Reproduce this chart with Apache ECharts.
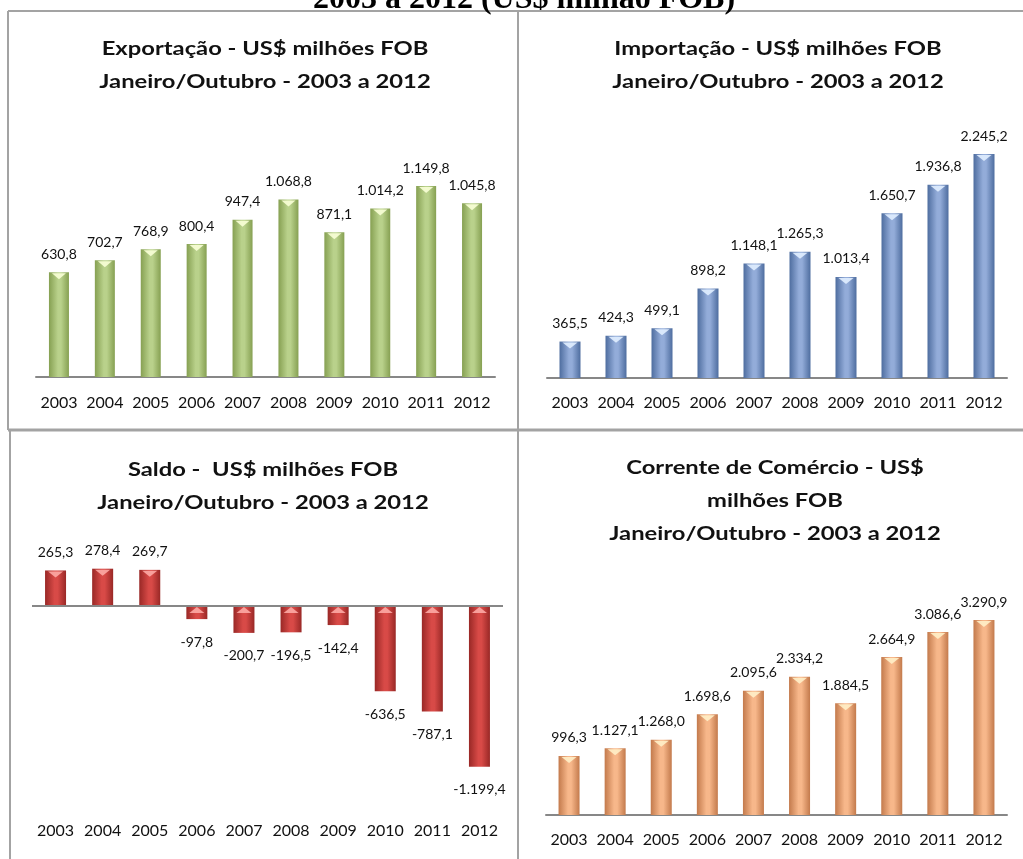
<!DOCTYPE html>
<html lang="pt">

<head>
    <meta charset="UTF-8">
    <title>Balança comercial - Janeiro/Outubro 2003 a 2012</title>
    <style>
        html, body { margin: 0; padding: 0; background: #fff; }
    </style>
</head>

<body>
    <div id="main" style="width:1023px; height:859px;"></div>
    <script src="https://cdn.jsdelivr.net/npm/echarts@6/dist/echarts.min.js"></script>
    <script>
        // dados (US$ milhões FOB)
        var anos = ['2003', '2004', '2005', '2006', '2007', '2008', '2009', '2010', '2011', '2012'];
        var exportacao = [630.8, 702.7, 768.9, 800.4, 947.4, 1068.8, 871.1, 1014.2, 1149.8, 1045.8];
        var importacao = [365.5, 424.3, 499.1, 898.2, 1148.1, 1265.3, 1013.4, 1650.7, 1936.8, 2245.2];
        var saldo = [265.3, 278.4, 269.7, -97.8, -200.7, -196.5, -142.4, -636.5, -787.1, -1199.4];
        var corrente = [996.3, 1127.1, 1268.0, 1698.6, 2095.6, 2334.2, 1884.5, 2664.9, 3086.6, 3290.9];

        var fonte = 'Lato, "Open Sans", sans-serif';

        // 1.234,5
        function fmt(v) {
            var s = Math.abs(v).toFixed(1).split('.');
            var inteiro = s[0].replace(/\B(?=(\d{3})+(?!\d))/g, '.');
            return (v < 0 ? '-' : '') + inteiro + ',' + s[1];
        }

        function cilindro(escuro, claro) {
            return new echarts.graphic.LinearGradient(0, 0, 1, 0, [
                { offset: 0, color: escuro },
                { offset: 0.45, color: claro },
                { offset: 0.6, color: claro },
                { offset: 1, color: escuro }
            ]);
        }

        function serie(idx, valores, cor, largura) {
            return {
                type: 'bar',
                xAxisIndex: idx,
                yAxisIndex: idx,
                barWidth: largura,
                itemStyle: { color: cor },
                label: {
                    show: true,
                    position: 'top',
                    distance: 11,
                    fontFamily: fonte,
                    fontSize: 14,
                    color: '#111',
                    formatter: function (p) { return fmt(p.value); }
                },
                data: valores.map(function (v) {
                    return v < 0 ? { value: v, label: { position: 'bottom', distance: 16 } } : v;
                })
            };
        }

        // brilho em forma de triângulo no topo de cada barra
        function brilho(idx, valores, cor, largura) {
            return {
                type: 'pictorialBar',
                xAxisIndex: idx,
                yAxisIndex: idx,
                silent: true,
                z: 3,
                barWidth: largura,
                symbol: 'triangle',
                symbolRotate: 180,
                symbolSize: [largura - 6, 6],
                itemStyle: { color: cor },
                data: valores.map(function (v) {
                    return { value: v, symbolPosition: v < 0 ? 'start' : 'end', symbolOffset: [0, v < 0 ? 1 : 1] };
                })
            };
        }

        function eixoX(idx, margem, mostrarLinha) {
            return {
                type: 'category',
                gridIndex: idx,
                data: anos,
                axisTick: { show: false },
                axisLine: { show: mostrarLinha, onZero: false, lineStyle: { color: '#878787', width: 2 } },
                axisLabel: { interval: 0, margin: margem, fontFamily: fonte, fontSize: 16, color: '#111' }
            };
        }

        function eixoY(idx, min, max) {
            return {
                type: 'value', gridIndex: idx, min: min, max: max,
                show: false, splitLine: { show: false }
            };
        }

        // títulos dos gráficos (texto um pouco esticado na horizontal, como no original)
        function titulo(texto, x, y) {
            return {
                type: 'text', x: x, y: y, scaleX: 1.25, z: 10,
                style: {
                    text: texto,
                    font: 'bold 19px ' + fonte,
                    lineHeight: 33,
                    fill: '#111',
                    align: 'center',
                    verticalAlign: 'top'
                }
            };
        }

        var chart = echarts.init(document.getElementById('main'));

        var saldoSerie = serie(2, saldo, cilindro('#992826', '#d84a47'), 21);
        saldoSerie.markLine = {
            silent: true,
            symbol: 'none',
            label: { show: false },
            lineStyle: { color: '#878787', width: 2, type: 'solid' },
            data: [{ yAxis: 0 }]
        };

        chart.setOption({
            animation: false,
            grid: [
                { left: 36, width: 459, top: 144.5, height: 232.5 },
                { left: 547, width: 460, top: 128.6, height: 249.4 },
                { left: 32, width: 471, top: 552.4, height: 241.2 },
                { left: 546, width: 461, top: 578, height: 237 }
            ],
            xAxis: [
                eixoX(0, 18, true),
                eixoX(1, 17, true),
                eixoX(2, 29, false),
                eixoX(3, 17, true)
            ],
            yAxis: [
                eixoY(0, 0, 1400),
                eixoY(1, 0, 2500),
                eixoY(2, -1400, 400),
                eixoY(3, 0, 4000)
            ],
            series: [
                serie(0, exportacao, cilindro('#86a052', '#b9d18b'), 20),
                serie(1, importacao, cilindro('#4e6d9f', '#93acd9'), 21),
                saldoSerie,
                serie(3, corrente, cilindro('#c37a4c', '#f7b78a'), 21),
                brilho(0, exportacao, 'rgba(250,255,215,0.9)', 20),
                brilho(1, importacao, 'rgba(225,238,255,0.9)', 21),
                brilho(2, saldo, 'rgba(255,175,170,0.85)', 21),
                brilho(3, corrente, 'rgba(255,240,200,0.9)', 21)
            ],
            graphic: [
                // título do documento, cortado no topo
                {
                    type: 'text', x: 524, y: 16, z: 10,
                    style: {
                        text: '2003 a 2012 (US$ milhão FOB)',
                        font: 'bold 32px "Liberation Serif", "Times New Roman", serif',
                        fill: '#000', align: 'center', verticalAlign: 'bottom'
                    }
                },
                titulo('Exportação - US$ milhões FOB\nJaneiro/Outubro - 2003 a 2012', 265, 32.5),
                titulo('Importação - US$ milhões FOB\nJaneiro/Outubro - 2003 a 2012', 778, 32.5),
                titulo('Saldo -  US$ milhões FOB\nJaneiro/Outubro - 2003 a 2012', 263, 453.5),
                titulo('Corrente de Comércio - US$\nmilhões FOB\nJaneiro/Outubro - 2003 a 2012', 775, 451.5),
                // moldura dos quadros
                {
                    type: 'group', z: 20, silent: true,
                    children: [
                        { type: 'line', shape: { x1: 8, y1: 11, x2: 1023, y2: 11 }, style: { stroke: '#a3a3a3', lineWidth: 2 } },
                        { type: 'line', shape: { x1: 8, y1: 11, x2: 8, y2: 430 }, style: { stroke: '#a3a3a3', lineWidth: 2 } },
                        { type: 'line', shape: { x1: 10, y1: 430, x2: 10, y2: 859 }, style: { stroke: '#a3a3a3', lineWidth: 2 } },
                        { type: 'line', shape: { x1: 518, y1: 11, x2: 518, y2: 859 }, style: { stroke: '#a3a3a3', lineWidth: 2 } },
                        { type: 'line', shape: { x1: 8, y1: 430, x2: 1023, y2: 430 }, style: { stroke: '#a3a3a3', lineWidth: 3 } }
                    ]
                }
            ]
        });
    </script>
</body>

</html>
